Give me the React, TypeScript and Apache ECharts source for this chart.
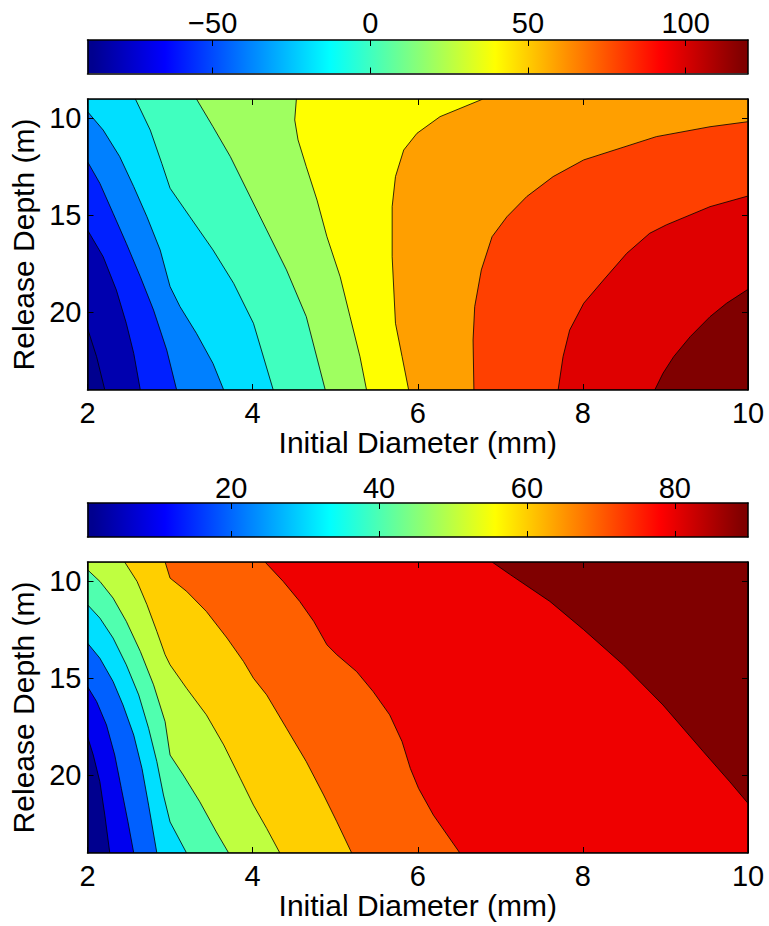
import React, { useEffect, useRef } from "react";
import * as echarts from "echarts";

const FONT = "'Liberation Sans', Arial, Helvetica, sans-serif";

// Axis ranges shared by both contour panels
const diameterRange = [2, 10];
const depthRange = [9, 24];
const depthTicks = [10, 15, 20];

// Upper panel: contour levels, colour limits and contour lines ([diameter, depth])
const upperLevels = [-80, -60, -40, -20, 0, 20, 40, 60, 80, 100, 120];
const upperColorLimits = [-89.7, 119.8];
const upperBarTicks = [-50, 0, 50, 100];
const upperContours: number[][][] = [
  [[2.0, 20.82], [2.11, 22.28], [2.21, 24]],
  [[2.0, 15.75], [2.19, 17.13], [2.35, 18.85], [2.47, 20.56], [2.56, 22.11], [2.64, 24]],
  [[2.0, 12.23], [2.15, 13.35], [2.31, 14.89], [2.47, 16.44], [2.64, 18.16], [2.8, 19.88], [2.96, 21.94], [3.08, 24]],
  [[2.0, 9.65], [2.19, 10.6], [2.39, 11.97], [2.56, 13.52], [2.72, 15.07], [2.88, 16.78], [3.0, 18.67], [3.12, 19.7], [3.32, 21.08], [3.52, 22.63], [3.65, 24]],
  [[2.58, 9], [2.76, 10.6], [2.9, 12.32], [3.0, 13.6], [3.24, 15.07], [3.52, 16.78], [3.77, 18.5], [4.01, 20.56], [4.25, 24]],
  [[3.32, 9], [3.52, 10.43], [3.73, 11.97], [3.93, 13.69], [4.17, 15.75], [4.41, 17.81], [4.65, 20.22], [4.88, 24]],
  [[4.53, 9], [4.51, 10.08], [4.55, 11.11], [4.65, 12.49], [4.78, 14.21], [4.9, 16.1], [5.06, 18.16], [5.18, 20.22], [5.3, 22.28], [5.38, 24]],
  [[6.79, 9], [6.27, 9.91], [5.99, 10.77], [5.83, 11.63], [5.73, 13.0], [5.69, 14.55], [5.69, 17.13], [5.73, 20.56], [5.81, 22.28], [5.89, 24]],
  [[10, 10.17], [9.54, 10.43], [8.89, 10.94], [8.01, 12.14], [7.64, 13.0], [7.32, 14.03], [7.08, 15.07], [6.9, 16.1], [6.77, 17.81], [6.69, 19.7], [6.67, 21.42], [6.68, 24]],
  [[10, 14.0], [9.54, 14.55], [9.01, 15.49], [8.81, 15.92], [8.53, 16.96], [8.25, 18.33], [8.01, 19.53], [7.84, 20.91], [7.76, 22.28], [7.7, 24]],
  [[10, 18.81], [9.74, 19.53], [9.54, 20.22], [9.3, 21.25], [9.1, 22.28], [8.97, 23.14], [8.87, 24]],
];

// Lower panel
const lowerLevels = [10, 20, 30, 40, 50, 60, 70, 80, 90];
const lowerColorLimits = [0.57, 89.9];
const lowerBarTicks = [20, 40, 60, 80];
const lowerContours: number[][][] = [
  [[2.0, 18.0], [2.07, 18.95], [2.15, 20.33], [2.21, 22.05], [2.27, 24]],
  [[2.0, 15.42], [2.11, 16.19], [2.23, 17.4], [2.33, 18.95], [2.41, 20.67], [2.49, 22.39], [2.56, 24]],
  [[2.0, 13.18], [2.15, 13.96], [2.31, 15.16], [2.43, 16.37], [2.56, 17.92], [2.66, 19.64], [2.74, 21.53], [2.84, 24]],
  [[2.0, 11.2], [2.15, 11.89], [2.31, 12.92], [2.47, 14.3], [2.62, 15.85], [2.74, 17.57], [2.84, 19.29], [2.92, 21.01], [3.0, 22.4], [3.2, 24]],
  [[2.0, 9.4], [2.15, 10.0], [2.31, 10.86], [2.47, 12.06], [2.64, 13.61], [2.8, 15.33], [2.94, 17.23], [3.0, 18.95], [3.16, 19.98], [3.36, 21.36], [3.56, 22.91], [3.71, 24]],
  [[2.45, 9], [2.6, 10.0], [2.72, 11.2], [2.84, 12.58], [2.94, 13.78], [3.0, 14.3], [3.2, 15.51], [3.44, 16.88], [3.65, 18.43], [3.85, 20.15], [4.01, 21.53], [4.17, 22.73], [4.33, 24]],
  [[2.94, 9], [3.0, 9.83], [3.2, 10.51], [3.44, 11.55], [3.69, 12.92], [3.89, 14.13], [4.01, 14.99], [4.17, 15.85], [4.41, 17.57], [4.65, 19.29], [4.86, 21.01], [5.02, 22.39], [5.2, 24]],
  [[4.15, 9], [4.37, 10.0], [4.57, 11.03], [4.74, 12.06], [4.9, 13.27], [5.02, 13.78], [5.26, 14.65], [5.46, 15.68], [5.66, 16.88], [5.81, 18.26], [5.91, 19.64], [6.01, 20.67], [6.19, 22.05], [6.51, 24]],
  [[6.9, 9], [7.12, 9.65], [7.6, 11.03], [8.01, 12.49], [8.49, 14.3], [8.97, 16.37], [9.46, 18.78], [9.78, 20.33], [10, 21.44]],
];

const X_LABEL = "Initial Diameter (mm)";
const Y_LABEL = "Release Depth (m)";

// jet colormap on the 64-entry scale; k runs from 1 to 64 (fractional k interpolates)
function jetColor(k: number): string {
  const c = (v: number) => Math.max(0, Math.min(1, v));
  const r = c(Math.min((k - 24) / 16, (72 - k) / 16));
  const g = c(Math.min((k - 8) / 16, (56 - k) / 16));
  const b = c(Math.min((k + 8) / 16, (40 - k) / 16));
  return `rgb(${Math.round(r * 255)},${Math.round(g * 255)},${Math.round(b * 255)})`;
}

function jetIndex(v: number, lim: number[]): number {
  const t = (v - lim[0]) / (lim[1] - lim[0]);
  return Math.min(64, Math.max(1, Math.floor(t * 64) + 1));
}

const [X0, X1] = diameterRange;
const [Y0, Y1] = depthRange;
const corners = [
  [X0, Y0],
  [X1, Y0],
  [X1, Y1],
  [X0, Y1],
];

// position of a boundary point along the frame, going round clockwise from the top-left corner
function perimeter(p: number[]): number {
  const [x, y] = p;
  const eps = 1e-6;
  if (Math.abs(y - Y0) < eps) return (x - X0) / (X1 - X0);
  if (Math.abs(x - X1) < eps) return 1 + (y - Y0) / (Y1 - Y0);
  if (Math.abs(y - Y1) < eps) return 2 + (X1 - x) / (X1 - X0);
  return 3 + (Y1 - y) / (Y1 - Y0);
}

// region above a contour level: the line itself closed along the frame on its high side
function regionAbove(line: number[][]): number[][] {
  const ps = perimeter(line[0]);
  const pe = perimeter(line[line.length - 1]);
  let target = ps;
  if (target >= pe) target -= 4;
  const pts = line.slice();
  let k = Math.ceil(pe) - 1;
  while (k > target) {
    pts.push(corners[((k % 4) + 4) % 4]);
    k--;
  }
  return pts;
}

function contourSeries(levels: number[], contours: number[][][], lim: number[], axisIdx: number) {
  const polygons = [corners, ...contours.map(regionAbove)];
  const fills = [jetColor(1), ...levels.map((l) => jetColor(jetIndex(l, lim)))];
  return {
    type: "custom",
    coordinateSystem: "cartesian2d",
    xAxisIndex: axisIdx,
    yAxisIndex: axisIdx,
    silent: true,
    clip: true,
    z: 2,
    data: polygons.map((_, i) => [i]),
    renderItem: (_params: any, api: any) => {
      const i = api.value(0);
      const pts = polygons[i].map((p) => api.coord(p));
      return {
        type: "polygon",
        shape: { points: pts },
        style: { fill: fills[i], stroke: "#000", lineWidth: 0.8 },
      };
    },
  };
}

// colour bar: one rectangle spanning the colour limits, filled with the jet gradient
function colorbarSeries(lim: number[], axisIdx: number) {
  const stops = Array.from({ length: 64 }, (_, i) => ({ offset: (i + 0.5) / 64, color: jetColor(i + 1) }));
  return {
    type: "custom",
    coordinateSystem: "cartesian2d",
    xAxisIndex: axisIdx,
    yAxisIndex: axisIdx,
    silent: true,
    clip: true,
    z: 2,
    data: [[0]],
    renderItem: (_params: any, api: any) => {
      const a = api.coord([lim[0], 1]);
      const b = api.coord([lim[1], 0]);
      return {
        type: "rect",
        shape: { x: a[0], y: a[1], width: b[0] - a[0], height: b[1] - a[1] },
        style: { fill: new echarts.graphic.LinearGradient(0, 0, 1, 0, stops) },
      };
    },
  };
}

const black = { color: "#000", width: 1.5 };
const tickFmt = (v: number) => (v < 0 ? "\u2212" + Math.abs(v) : String(v));

function barXAxes(grid: number, lim: number[], ticks: number[], margin: number) {
  const tick = { show: true, inside: true, length: 6, customValues: ticks, lineStyle: { color: "#000", width: 1 } };
  return [
    {
      type: "value", gridIndex: grid, position: "top", min: lim[0], max: lim[1], z: 10,
      axisLine: { show: true, onZero: false, lineStyle: black },
      axisTick: tick,
      axisLabel: { show: true, customValues: ticks, formatter: tickFmt, margin, fontSize: 29, color: "#000", fontFamily: FONT },
      splitLine: { show: false },
    },
    {
      type: "value", gridIndex: grid, position: "bottom", min: lim[0], max: lim[1], z: 10,
      axisLine: { show: true, onZero: false, lineStyle: black },
      axisTick: tick,
      axisLabel: { show: false },
      splitLine: { show: false },
    },
  ];
}

function barYAxes(grid: number) {
  const base = {
    type: "value", gridIndex: grid, min: 0, max: 1, z: 10,
    axisLine: { show: true, onZero: false, lineStyle: black },
    axisTick: { show: false }, axisLabel: { show: false }, splitLine: { show: false },
  };
  return [{ ...base, position: "left" }, { ...base, position: "right" }];
}

function plotXAxes(grid: number) {
  const tick = { show: true, inside: true, length: 6, lineStyle: { color: "#000", width: 1 } };
  return [
    {
      type: "value", gridIndex: grid, position: "bottom", min: X0, max: X1, interval: 2, z: 10,
      name: X_LABEL, nameLocation: "middle", nameGap: 34,
      nameTextStyle: { fontSize: 30, color: "#000", fontFamily: FONT },
      axisLine: { show: true, onZero: false, lineStyle: black },
      axisTick: tick,
      axisLabel: { show: true, margin: 8, fontSize: 29, color: "#000", fontFamily: FONT },
      splitLine: { show: false },
    },
    {
      type: "value", gridIndex: grid, position: "top", min: X0, max: X1, interval: 2, z: 10,
      axisLine: { show: true, onZero: false, lineStyle: black },
      axisTick: tick,
      axisLabel: { show: false },
      splitLine: { show: false },
    },
  ];
}

function plotYAxes(grid: number) {
  const tick = { show: true, inside: true, length: 6, customValues: depthTicks, lineStyle: { color: "#000", width: 1 } };
  return [
    {
      type: "value", gridIndex: grid, position: "left", min: Y0, max: Y1, inverse: true, z: 10,
      name: Y_LABEL, nameLocation: "middle", nameGap: 49, nameRotate: 90,
      nameTextStyle: { fontSize: 30, color: "#000", fontFamily: FONT },
      axisLine: { show: true, onZero: false, lineStyle: black },
      axisTick: tick,
      axisLabel: { show: true, customValues: depthTicks, margin: 6, fontSize: 29, color: "#000", fontFamily: FONT },
      splitLine: { show: false },
    },
    {
      type: "value", gridIndex: grid, position: "right", min: Y0, max: Y1, inverse: true, z: 10,
      axisLine: { show: true, onZero: false, lineStyle: black },
      axisTick: tick,
      axisLabel: { show: false },
      splitLine: { show: false },
    },
  ];
}

export default function App() {
  const ref = useRef<HTMLDivElement>(null);

  useEffect(() => {
    if (!ref.current) return;
    const chart = echarts.init(ref.current, undefined, { renderer: "svg" });
    const gridBase = { left: 87.5, width: 660.5, outerBoundsMode: "none", containLabel: false };
    chart.setOption({
      animation: false,
      backgroundColor: "#fff",
      textStyle: { fontFamily: FONT },
      grid: [
        { ...gridBase, top: 40, height: 33.5 },
        { ...gridBase, top: 99, height: 291 },
        { ...gridBase, top: 503, height: 34 },
        { ...gridBase, top: 562, height: 291 },
      ],
      xAxis: [
        ...barXAxes(0, upperColorLimits, upperBarTicks, 2.5),
        ...plotXAxes(1),
        ...barXAxes(2, lowerColorLimits, lowerBarTicks, 1),
        ...plotXAxes(3),
      ],
      yAxis: [...barYAxes(0), ...plotYAxes(1), ...barYAxes(2), ...plotYAxes(3)],
      series: [
        colorbarSeries(upperColorLimits, 0),
        contourSeries(upperLevels, upperContours, upperColorLimits, 2),
        colorbarSeries(lowerColorLimits, 4),
        contourSeries(lowerLevels, lowerContours, lowerColorLimits, 6),
      ],
    });
    return () => chart.dispose();
  }, []);

  return (
    <div
      ref={ref}
      style={{ position: "fixed", left: 0, top: 0, width: 769, height: 926, background: "#fff" }}
    />
  );
}
